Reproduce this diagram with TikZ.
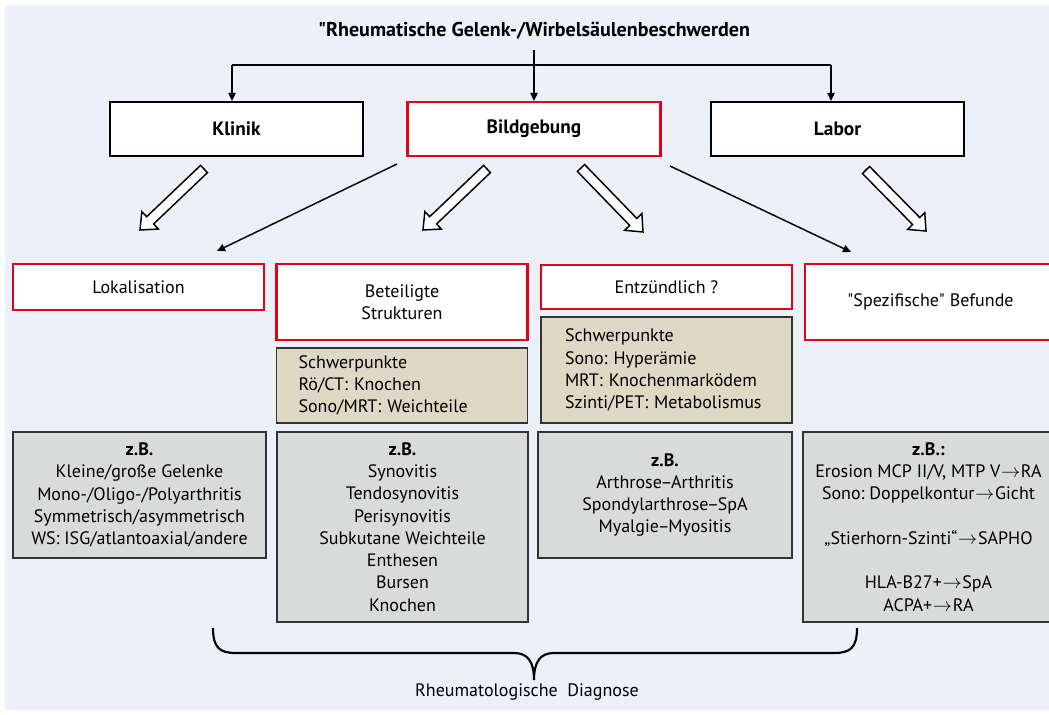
\documentclass[tikz,border=0pt]{standalone}
\usepackage{fontspec}
\setmainfont{PT Sans}
\frenchspacing
\usetikzlibrary{calc,arrows.meta}
\definecolor{bgc}{HTML}{ECF0F9}
\definecolor{redb}{HTML}{E2001A}
\definecolor{tanfill}{HTML}{DDD9C4}
\definecolor{grayfill}{HTML}{D9DBDA}
\definecolor{darkb}{HTML}{333333}
\newcommand{\hollowarrow}[3]{%
  \coordinate (#1b) at ($(#3)!10.5pt!(#2)$);
  \draw[blockarrow] ($(#2)!3.75pt!90:(#3)$) -- ($(#1b)!3.75pt!90:(#3)$) -- ($(#1b)!9pt!90:(#3)$) -- (#3) -- ($(#1b)!9pt!-90:(#3)$) -- ($(#1b)!3.75pt!-90:(#3)$) -- ($(#2)!3.75pt!-90:(#3)$) -- cycle;
}
\newcommand{\ra}{\kern0.5pt$\rightarrow$\kern0.5pt}
\newcommand{\nd}{\kern-1pt–\kern-1pt}
\tikzset{
  body/.style={font=\fontsize{13.5}{16.7}\selectfont},
  blackbox/.style={draw=black, fill=white, line width=1.6pt, minimum width=189.75pt, minimum height=40.5pt, inner sep=0pt, font=\fontsize{14.5}{17}\selectfont\bfseries},
  redbox/.style={draw=redb, fill=white, line width=1.8pt, minimum width=188.25pt, inner sep=0pt, align=center, body},
  tanbox/.style={draw=darkb, fill=tanfill, line width=1pt, inner ysep=0pt, align=left, body},
  graybox/.style={draw=darkb, fill=grayfill, line width=1pt, minimum width=189pt, inner sep=0pt, align=center, body},
  conn/.style={draw=black, line width=1.1pt},
  connarrow/.style={conn, -{Triangle[length=6pt,width=5.5pt]}},
  blockarrow/.style={draw=black, fill=white, line width=1.1pt, line join=miter},
  brace/.style={draw=black, line width=1.6pt}
}
\begin{document}
\begin{tikzpicture}[x=0.75pt, y=-0.75pt]
\clip (0,0) rectangle (1049,714);
\fill[white] (0,0) rectangle (1049,714);
\fill[bgc] (5,5) rectangle (1049,710);

% title
\node[font=\fontsize{15}{18}\selectfont\bfseries] (title) at (534,31) {\textquotedbl Rheumatische Gelenk-/Wirbelsäulenbeschwerden};

% level 1
\node[blackbox] (klinik) at (236.5,129) {Klinik};
\node[blackbox, draw=redb] (bild) at (534,129) {Bildgebung};
\node[blackbox] (labor) at (837.5,129) {Labor};

\coordinate (split) at (534,50);
\coordinate (junL) at (232,65);
\coordinate (junR) at (831,65);
\draw[conn] (junL) -- (junR);
\draw[connarrow] (split) -- (bild.north);
\draw[connarrow] (junL) -- (klinik.north -| junL);
\draw[connarrow] (junR) -- (labor.north -| junR);

% level 2 red boxes
\node[redbox, minimum height=34.5pt] (lok) at (138.5,287) {Lokalisation};
\node[redbox, minimum height=57pt] (beteil) at (402,302) {Beteiligte\\Strukturen};
\node[redbox, minimum height=33pt] (entz) at (666.5,287) {Entzündlich ?};
\node[redbox, minimum height=57pt] (spez) at (930.5,302) {\textquotedbl Spezifische\textquotedbl{} Befunde};

% tan boxes
\node[tanbox, inner xsep=16.5pt, text width=155.25pt, minimum height=56.25pt] (tan1) at (402,385.5)
  {Schwerpunkte\\Rö/CT: Knochen\\Sono/MRT: Weichteile};
\node[tanbox, inner xsep=18pt, text width=152.25pt, minimum height=79.5pt] (tan2) at (666.5,370)
  {Schwerpunkte\\Sono: Hyperämie\\MRT: Knochenmarködem\\Szinti/PET: Metabolismus};

% gray boxes
\node[graybox, minimum width=189.75pt, minimum height=94.5pt] (g1) at (139.5,495)
  {\textbf{z.B.}\\Kleine/große Gelenke\\Mono-/Oligo-/Polyarthritis\\Symmetrisch/asymmetrisch\\WS: ISG/atlantoaxial/andere};
\node[graybox, minimum width=188.25pt, minimum height=142.5pt] (g2) at (402.5,527)
  {\textbf{z.B.}\\Synovitis\\Tendosynovitis\\Perisynovitis\\Subkutane Weichteile\\Enthesen\\Bursen\\Knochen};
\node[graybox, minimum width=190.5pt, minimum height=94.5pt] (g3) at (665,495)
  {\textbf{z.B.}\\Arthrose\nd Arthritis\\Spondylarthrose\nd SpA\\Myalgie\nd Myositis};
\node[graybox, minimum width=188.25pt, minimum height=142.5pt] (g4) at (928.5,527)
  {\textbf{z.B.:}\\Erosion MCP II/V, MTP V\ra RA\\Sono: Doppelkontur\ra Gicht\\[16.7pt]„Stierhorn-Szinti“\ra SAPHO\\[16.7pt]HLA-B27+\ra SpA\\ACPA+\ra RA};

% thin arrows from Bildgebung
\coordinate (tl0) at (397,164);
\coordinate (tl1) at (217,251);
\coordinate (tr0) at (670,166);
\coordinate (tr1) at (851,252);
\draw[connarrow] (tl0) -- (tl1);
\draw[connarrow] (tr0) -- (tr1);

% hollow block arrows
\coordinate (a1t) at (204,169); \coordinate (a1h) at (140,230);
\coordinate (a2t) at (487,169); \coordinate (a2h) at (423,230);
\coordinate (a3t) at (581,168); \coordinate (a3h) at (643,232);
\coordinate (a4t) at (866,170); \coordinate (a4h) at (926,231);
\hollowarrow{a1}{a1t}{a1h}
\hollowarrow{a2}{a2t}{a2h}
\hollowarrow{a3}{a3t}{a3h}
\hollowarrow{a4}{a4t}{a4h}

% brace
\draw[brace] (213,628) .. controls (213,648) and (220,653) .. (236,653) -- (514,653)
  .. controls (528,653) and (534,662) .. (534,680)
  .. controls (534,662) and (540,653) .. (554,653) -- (834,653)
  .. controls (850,653) and (857,648) .. (857,628);
\node[body] (diag) at (527,692) {Rheumatologische\ \ Diagnose};
\end{tikzpicture}
\end{document}
